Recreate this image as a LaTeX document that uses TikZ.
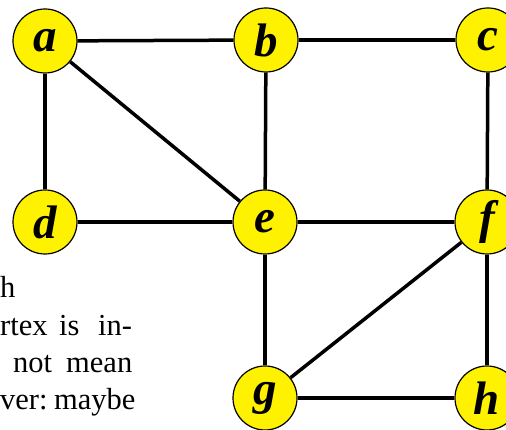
\documentclass[tikz,border=0pt]{standalone}
\usepackage{fontspec}
\setmainfont{Liberation Serif}
\usepackage{tikz}

\tikzset{
  vertex/.style={circle,draw=black,line width=1.2pt,fill=yellow,minimum size=64pt,inner sep=0pt,
    font=\fontsize{47}{47}\selectfont\bfseries\itshape},
  edge/.style={line width=3.5pt,black},
  textline/.style={anchor=base west,inner sep=0pt,font=\fontsize{30.5}{37}\selectfont}
}

\begin{document}
\begin{tikzpicture}[x=1pt,y=1pt]
\useasboundingbox (0,0) rectangle (506,430);
\clip (0,0) rectangle (506,430);
% the text on the left, word by word
\node[textline] (t1) at (0,132) {h};
\node[textline] (t2a) at (0,94) {rtex};
\node[textline] (t2b) at (59,94) {is};
\node[textline] (t2c) at (98,94) {in-};
\node[textline] (t3a) at (13,57) {not};
\node[textline] (t3b) at (66,57) {mean};
\node[textline] (t4a) at (0,20) {ver:};
\node[textline] (t4b) at (54,20) {maybe};
% vertices
\node[vertex] (a) at (45,389) {a};
\node[vertex] (b) at (266,390) {b};
\node[vertex] (c) at (488,390) {c};
\node[vertex] (d) at (45,208) {d};
\node[vertex] (e) at (265,208) {e};
\node[vertex] (f) at (487,208) {f};
\node[vertex] (g) at (265,32) {g};
\node[vertex] (h) at (487,32) {h};
% edges
\draw[edge] (a) -- (b);
\draw[edge] (b) -- (c);
\draw[edge] (a) -- (d);
\draw[edge] (a) -- (e);
\draw[edge] (b) -- (e);
\draw[edge] (c) -- (f);
\draw[edge] (d) -- (e);
\draw[edge] (e) -- (f);
\draw[edge] (e) -- (g);
\draw[edge] (f) -- (g);
\draw[edge] (f) -- (h);
\draw[edge] (g) -- (h);
\end{tikzpicture}
\end{document}
